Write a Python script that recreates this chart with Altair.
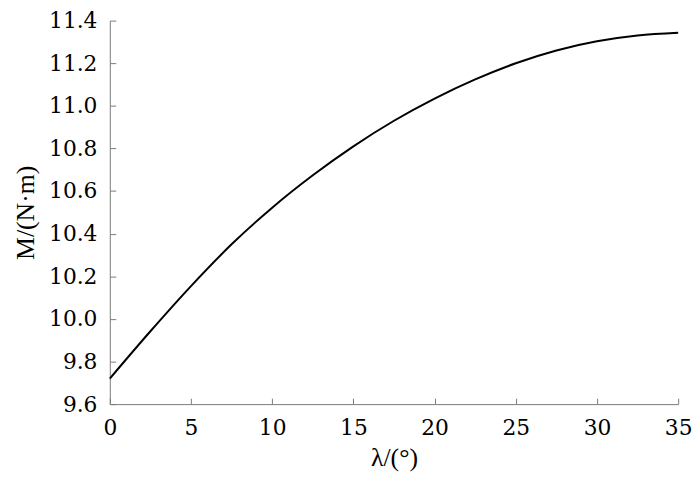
import altair as alt
import pandas as pd

angle = [0, 2.5, 5, 7.5, 10, 12.5, 15, 17.5, 20, 22.5, 25, 27.5, 30, 32.5, 35]
moment = [9.72, 9.942, 10.154, 10.35, 10.522, 10.674, 10.81, 10.93, 11.034,
          11.124, 11.2, 11.26, 11.303, 11.33, 11.343]
x_ticks = [0, 5, 10, 15, 20, 25, 30, 35]
y_ticks = [9.6, 9.8, 10.0, 10.2, 10.4, 10.6, 10.8, 11.0, 11.2, 11.4]

df = pd.DataFrame({"angle": angle, "moment": moment})

W, H = 575, 388
AX = "#7a7a7a"
SERIF = "Liberation Serif"
DIGITS = "DejaVu Serif"

xs = alt.Scale(domain=[0, 35], nice=False, zero=False)
ys = alt.Scale(domain=[9.6, 11.4], nice=False, zero=False)

base = alt.Chart(df)

main = base.mark_line(color="black", strokeWidth=2, interpolate="monotone").encode(
    x=alt.X("angle:Q", scale=xs,
            axis=alt.Axis(values=x_ticks, title="λ/(°)", grid=False, ticks=False,
                          domainColor=AX, labelFont=DIGITS,
                          labelFontSize=22, labelColor="black", labelPadding=14,
                          titleFont=SERIF, titleFontSize=26, titleFontWeight="normal",
                          titleColor="black", titlePadding=6, labelFlush=False)),
    y=alt.Y("moment:Q", scale=ys,
            axis=alt.Axis(values=y_ticks, format=".1f", title="M/(N·m)", grid=False,
                          ticks=False, domainColor=AX, labelFont=DIGITS,
                          labelFontSize=22, labelColor="black", labelPadding=13,
                          titleFont=SERIF, titleFontSize=26, titleFontWeight="normal",
                          titleColor="black", titlePadding=10, labelFlush=False)),
)

inner = base.mark_line(opacity=0).encode(
    x=alt.X("angle:Q", scale=xs,
            axis=alt.Axis(orient="top", offset=-H, values=x_ticks, labels=False,
                          domain=False, grid=False, title=None, tickColor=AX,
                          tickSize=6)),
    y=alt.Y("moment:Q", scale=ys,
            axis=alt.Axis(orient="right", offset=-W, values=y_ticks, labels=False,
                          domain=False, grid=False, title=None, tickColor=AX,
                          tickSize=6)),
)

chart = alt.layer(main, inner).resolve_axis(x="independent", y="independent").properties(
    width=W, height=H,
    autosize=alt.AutoSizeParams(type="none"),
    padding={"left": 103, "top": 10, "right": 14, "bottom": 74},
).configure_view(stroke=None)

chart.save("out.html", embed_options={"renderer": "svg", "actions": False})
